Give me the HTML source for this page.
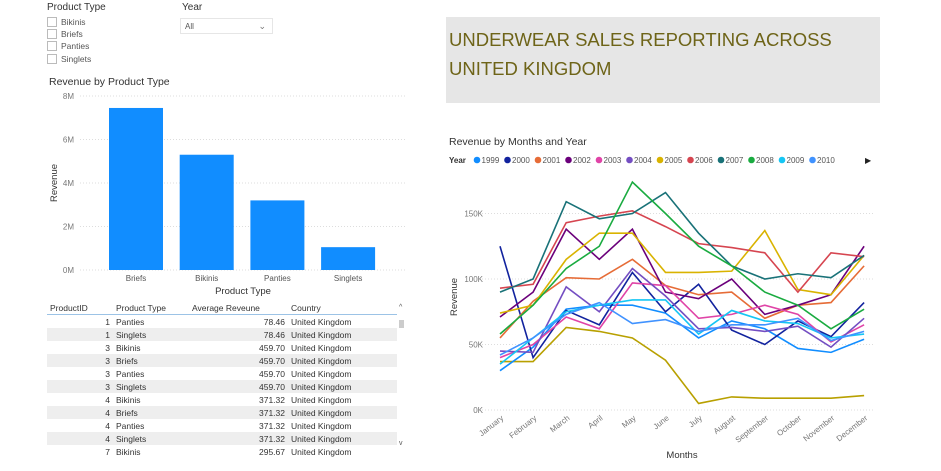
<!DOCTYPE html>
<html><head><meta charset="utf-8"><style>
body{margin:0;width:941px;height:471px;background:#fff;font-family:"Liberation Sans",sans-serif;position:relative;overflow:hidden;color:#333}
.abs{position:absolute}
.cb{position:absolute;left:47px;width:8px;height:8px;border:1px solid #bbb;background:#fff}
.lbl{position:absolute;font-size:8.5px;color:#555;white-space:nowrap}
table{border-collapse:collapse;font-size:8.5px;color:#333}
td,th{height:13px;padding:0 3px;white-space:nowrap;font-weight:normal}
</style></head><body>
<div class="abs" style="left:0;top:0">
<div class="lbl" style="left:47px;top:2px;font-size:10px;color:#333">Product Type</div>
<div class="cb" style="top:17px"></div><div class="lbl" style="left:61px;top:17px">Bikinis</div>
<div class="cb" style="top:29px"></div><div class="lbl" style="left:61px;top:29px">Briefs</div>
<div class="cb" style="top:41px"></div><div class="lbl" style="left:61px;top:41px">Panties</div>
<div class="cb" style="top:54px"></div><div class="lbl" style="left:61px;top:54px">Singlets</div>
</div>
<div class="lbl" style="left:182px;top:2px;font-size:10px;color:#333">Year</div>
<div class="abs" style="left:180px;top:18px;width:93px;height:16px;border:1px solid #e6e6e6;font-size:8px;color:#555;line-height:16px;padding-left:4px;box-sizing:border-box">All<span style="position:absolute;right:6px;top:-1px;font-size:9px;color:#777">&#8964;</span></div>

<svg class="abs" style="left:0;top:0" width="941" height="471">
<text x="49" y="85" font-size="10.5" fill="#333">Revenue by Product Type</text>
<g id="bars"></g>
<text x="449" y="145" font-size="10.5" fill="#333">Revenue by Months and Year</text>
<g id="lines"></g>
</svg>

<div class="abs" style="left:446px;top:17px;width:434px;height:86px;background:#e6e6e6"></div>
<div class="abs" style="left:449px;top:25px;font-size:18.5px;line-height:29px;color:#6e6418">UNDERWEAR SALES REPORTING ACROSS<br>UNITED KINGDOM</div>

<div class="abs" style="left:47px;top:301px;width:352px;height:160px;overflow:hidden">
<table style="width:350px">
<tr style="border-bottom:1px solid #9cc3e6"><th style="text-align:left;width:60px">ProductID</th><th style="text-align:left;width:70px">Product Type</th><th style="text-align:left;width:93px">Average Reveune</th><th style="text-align:left">Country</th></tr>
<tbody id="tb"></tbody></table></div>
<div class="abs" style="left:399px;top:320px;width:5px;height:8px;background:#ccc"></div>
<div class="lbl" style="left:399px;top:304px;font-size:7px">^</div>
<div class="lbl" style="left:399px;top:440px;font-size:7px">v</div>

<script>
const NS="http://www.w3.org/2000/svg";
function mk(p,t,a){const e=document.createElementNS(NS,t);for(const k in a)e.setAttribute(k,a[k]);p.appendChild(e);return e;}
// bar chart data
const barCats=["Briefs","Bikinis","Panties","Singlets"];
const barVals=[7.45,5.3,3.2,1.05];
const barTicks=[0,2,4,6,8];
const bg=document.getElementById('bars');
const by=v=>270-v*21.75;
barTicks.forEach(t=>{
  const l=mk(bg,'line',{x1:80,x2:405,y1:by(t),y2:by(t),stroke:'#ddd','stroke-dasharray':'1,2'});
  
  const tx=mk(bg,'text',{x:74,y:by(t)+3,'font-size':8,fill:'#777','text-anchor':'end'});tx.textContent=t+'M';
  
});
barCats.forEach((c,i)=>{
  const x=109+i*70.7;
  const r=mk(bg,'rect',{x:x,y:by(barVals[i]),width:54,height:270-by(barVals[i]),fill:'#118dff'});
  
  const t=mk(bg,'text',{x:x+27,y:281,'font-size':8,fill:'#555','text-anchor':'middle'});t.textContent=c;
  
});
let t1=mk(bg,'text',{x:243,y:294,'font-size':9.5,fill:'#333','text-anchor':'middle'});t1.textContent='Product Type';

let t2=mk(bg,'text',{x:0,y:0,'font-size':9.5,fill:'#333','text-anchor':'middle',transform:'translate(57,183) rotate(-90)'});t2.textContent='Revenue';


// line chart data
const months=["January","February","March","April","May","June","July","August","September","October","November","December"];
const years=["1999","2000","2001","2002","2003","2004","2005","2006","2007","2008","2009","2010"];
const colors=["#118dff","#12239e","#e66c37","#6b007b","#e044a7","#744ec2","#d9b300","#d64550","#197278","#1aab40","#15c6f4","#4092ff"];
const y1999=[30,48,77,80,80,74,55,68,62,47,44,54];
const y2000=[125,40,76,65,105,75,96,61,50,68,56,82];
const y2001=[55,83,101,100,115,95,88,90,70,80,82,110];
const y2002=[71,90,138,115,138,90,85,100,73,80,88,125];
const y2003=[40,50,71,62,97,95,70,73,80,73,52,65];
const y2004=[45,44,94,75,108,87,62,63,60,64,48,70];
const y2005=[74,80,115,135,135,105,105,106,137,92,88,118];
const y2006=[93,96,143,148,152,140,127,124,120,90,120,117];
const y2007=[90,100,159,146,150,166,135,110,100,104,101,118];
const y2008=[58,80,108,125,174,150,125,110,90,80,62,77];
const y2009=[35,55,75,80,84,84,58,76,68,66,55,58];
const y2010=[42,55,73,82,66,69,60,65,65,70,53,60];
const yOther=[37,37,63,60,55,38,5,10,9,9,9,11];
const series=[y1999,y2000,y2001,y2002,y2003,y2004,y2005,y2006,y2007,y2008,y2009,y2010];
const lineTicks=[0,50,100,150];
const lg=document.getElementById('lines');
const lx=i=>500+i*33.1;
const ly=v=>410-v*1.31;
lineTicks.forEach(t=>{
  const l=mk(lg,'line',{x1:482,x2:875,y1:ly(t),y2:ly(t),stroke:'#ddd','stroke-dasharray':'1,2'});
  
  const tx=mk(lg,'text',{x:483,y:ly(t)+3,'font-size':8,fill:'#777','text-anchor':'end'});tx.textContent=t+'K';
  
});
months.forEach((m,i)=>{
  const t=mk(lg,'text',{x:0,y:0,'font-size':8,fill:'#777','text-anchor':'end',transform:`translate(${lx(i)+4},${419}) rotate(-38)`});t.textContent=m;
  
});
const drawLine=(vals,col,name)=>{
  const p=mk(lg,'polyline',{points:vals.map((v,i)=>lx(i)+','+ly(v)).join(' '),fill:'none',stroke:col,'stroke-width':1.6});
  
};
drawLine(yOther,'#b8a000','line-other-year');
series.forEach((s,k)=>drawLine(s,colors[k],'line-'+years[k]));
let ly0=mk(lg,'text',{x:449,y:163,'font-size':8,fill:'#333','font-weight':'bold'});ly0.textContent='Year';

years.forEach((y,k)=>{
  const x=477+k*30.5;
  const c=mk(lg,'circle',{cx:x,cy:160,r:3.3,fill:colors[k]});
  
  const t=mk(lg,'text',{x:x+4.5,y:163,'font-size':8,fill:'#555'});t.textContent=y;
  
});
let ar=mk(lg,'text',{x:865,y:163,'font-size':8,fill:'#222'});ar.textContent='▶';

let mx=mk(lg,'text',{x:682,y:458,'font-size':9.5,fill:'#333','text-anchor':'middle'});mx.textContent='Months';

let ry=mk(lg,'text',{x:0,y:0,'font-size':9.5,fill:'#333','text-anchor':'middle',transform:'translate(457,297) rotate(-90)'});ry.textContent='Revenue';


// table
const ids=[1,1,3,3,3,3,4,4,4,4,7];
const types=["Panties","Singlets","Bikinis","Briefs","Panties","Singlets","Bikinis","Briefs","Panties","Singlets","Bikinis"];
const avgs=["78.46","78.46","459.70","459.70","459.70","459.70","371.32","371.32","371.32","371.32","295.67"];
const tb=document.getElementById('tb');
ids.forEach((id,i)=>{
  const tr=document.createElement('tr');
  
  
  if(i%2==1)tr.style.background='#eee';
  tr.innerHTML=`<td style="text-align:right">${id}</td><td>${types[i]}</td><td style="text-align:right">${avgs[i]}</td><td>United Kingdom</td>`;
  tb.appendChild(tr);
});
</script>
</body></html>
